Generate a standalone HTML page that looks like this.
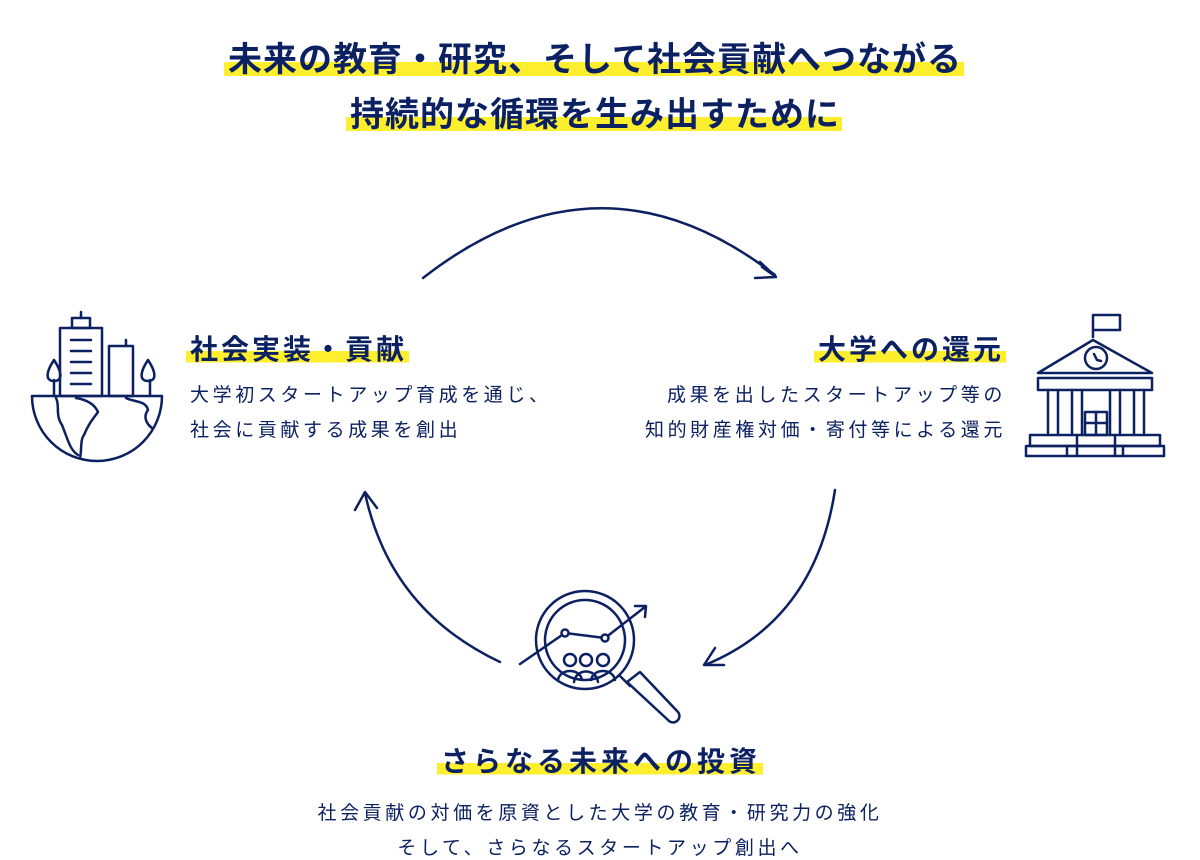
<!DOCTYPE html>
<html><head><meta charset="utf-8"><style>
body{margin:0;background:#fff;}
.c{position:relative;width:1200px;height:860px;overflow:hidden;font-family:"Liberation Sans","Noto Sans CJK JP",sans-serif;color:#0c2161;}
.t{position:absolute;font-weight:bold;white-space:nowrap;}
.hl{background:linear-gradient(transparent 55%,#fdee2e 55%,#fdee2e 92%,transparent 92%);padding:0 2px 0 4px;}
.b{position:absolute;font-size:19px;line-height:35px;white-space:nowrap;letter-spacing:3.6px;}
</style></head><body><div class="c">
<div class="t" style="left:0;width:1188px;text-align:center;top:33px;font-size:34px;line-height:55px;letter-spacing:1px;"><span class="hl">未来の教育・研究、そして社会貢献へつながる</span><br><span class="hl">持続的な循環を生み出すために</span></div>
<div class="t" style="left:186px;top:328px;font-size:28px;letter-spacing:3px;"><span class="hl">社会実装・貢献</span></div>
<div class="b" style="left:190px;top:378px;">大学初スタートアップ育成を通じ、<br>社会に貢献する成果を創出</div>
<div class="t" style="right:194px;top:328px;font-size:28px;letter-spacing:3px;"><span class="hl">大学への還元</span></div>
<div class="b" style="right:194px;top:378px;text-align:right;">成果を出したスタートアップ等の<br>知的財産権対価・寄付等による還元</div>
<div class="t" style="left:0;width:1200px;text-align:center;top:740px;font-size:28px;letter-spacing:4px;"><span class="hl">さらなる未来への投資</span></div>
<div class="b" style="left:0;width:1200px;text-align:center;top:796px;">社会貢献の対価を原資とした大学の教育・研究力の強化<br>そして、さらなるスタートアップ創出へ</div>
<svg width="1200" height="860" style="position:absolute;left:0;top:0" fill="none" stroke="#0c2161" stroke-width="2.5" stroke-linecap="round" stroke-linejoin="round">
<path d="M423,278 Q600,140 775,275"/><path d="M760,262 L776,277 L762,267 M776,277 L755,278"/>
<path d="M835,490 Q815,620 705,665"/><path d="M715,648 L704,665 L724,665"/>
<path d="M500,662 Q390,610 365,493"/><path d="M355,510 L365,492 L377,508"/>
<path d="M32,396 H162 A65,65 0 0 1 32,396 Z"/>
<path d="M54,396 V380 M150,396 V380"/>
<path d="M54,381 C45,381 46,372 54,360 C62,372 63,381 54,381Z M148,381 C139,381 140,372 148,360 C156,372 157,381 148,381Z"/>
<rect x="60" y="328" width="42" height="68"/><rect x="72" y="318" width="18" height="10"/><path d="M81,312 V318"/>
<path d="M71,340 H91 M71,351 H91 M71,362 H91 M71,373 H91 M71,384 H91"/>
<rect x="109" y="346" width="24" height="50"/><path d="M126,340 V346"/>
<path d="M56,398 C60,405 55,415 62,425 C68,440 70,450 78,455 M76,398 C88,400 95,405 98,412 C92,420 88,425 84,435 C80,440 82,450 80,458"/>
<path d="M126,398 C132,402 146,400 148,410 C142,418 148,425 152,428"/>
<path d="M1093,337 V315 H1120 V330 H1093"/>
<path d="M1038,373 L1093,340 L1152,373 Z"/><circle cx="1096" cy="358" r="11"/><path d="M1094,354 L1097,360 L1101,361"/>
<rect x="1038" y="378" width="114" height="12"/>
<path d="M1048,390 V435 M1058,390 V435 M1072,390 V435 M1082,390 V435 M1110,390 V435 M1120,390 V435 M1134,390 V435 M1144,390 V435"/>
<rect x="1085" y="412" width="22" height="23"/><path d="M1096,412 V435 M1085,423 H1107"/>
<rect x="1030" y="435" width="130" height="11"/><rect x="1026" y="446" width="138" height="10"/>
<path d="M1077,435 V456 M1115,435 V456 M1067,446 V456 M1123,446 V456"/>
<circle cx="585" cy="640" r="49"/><circle cx="585" cy="640" r="40"/>
<path d="M520,664 L565,633 L605,638 L645,607 M635,606 L646,606 L645,617"/>
<circle cx="565" cy="633" r="3.5" fill="#fff"/><circle cx="605" cy="638" r="3.5" fill="#fff"/>
<circle cx="570" cy="660" r="6"/><circle cx="586" cy="660" r="6"/><circle cx="603" cy="660" r="6"/>
<path d="M558,680 C560,668 580,668 582,680 M574,682 C576,668 596,668 598,682 M591,680 C593,668 613,668 615,680"/>
<path d="M619,675 L630,686 M627,682 L668,720 A5,5 0 0 0 678,712 L640,672 Z"/>
</svg>
</div></body></html>
